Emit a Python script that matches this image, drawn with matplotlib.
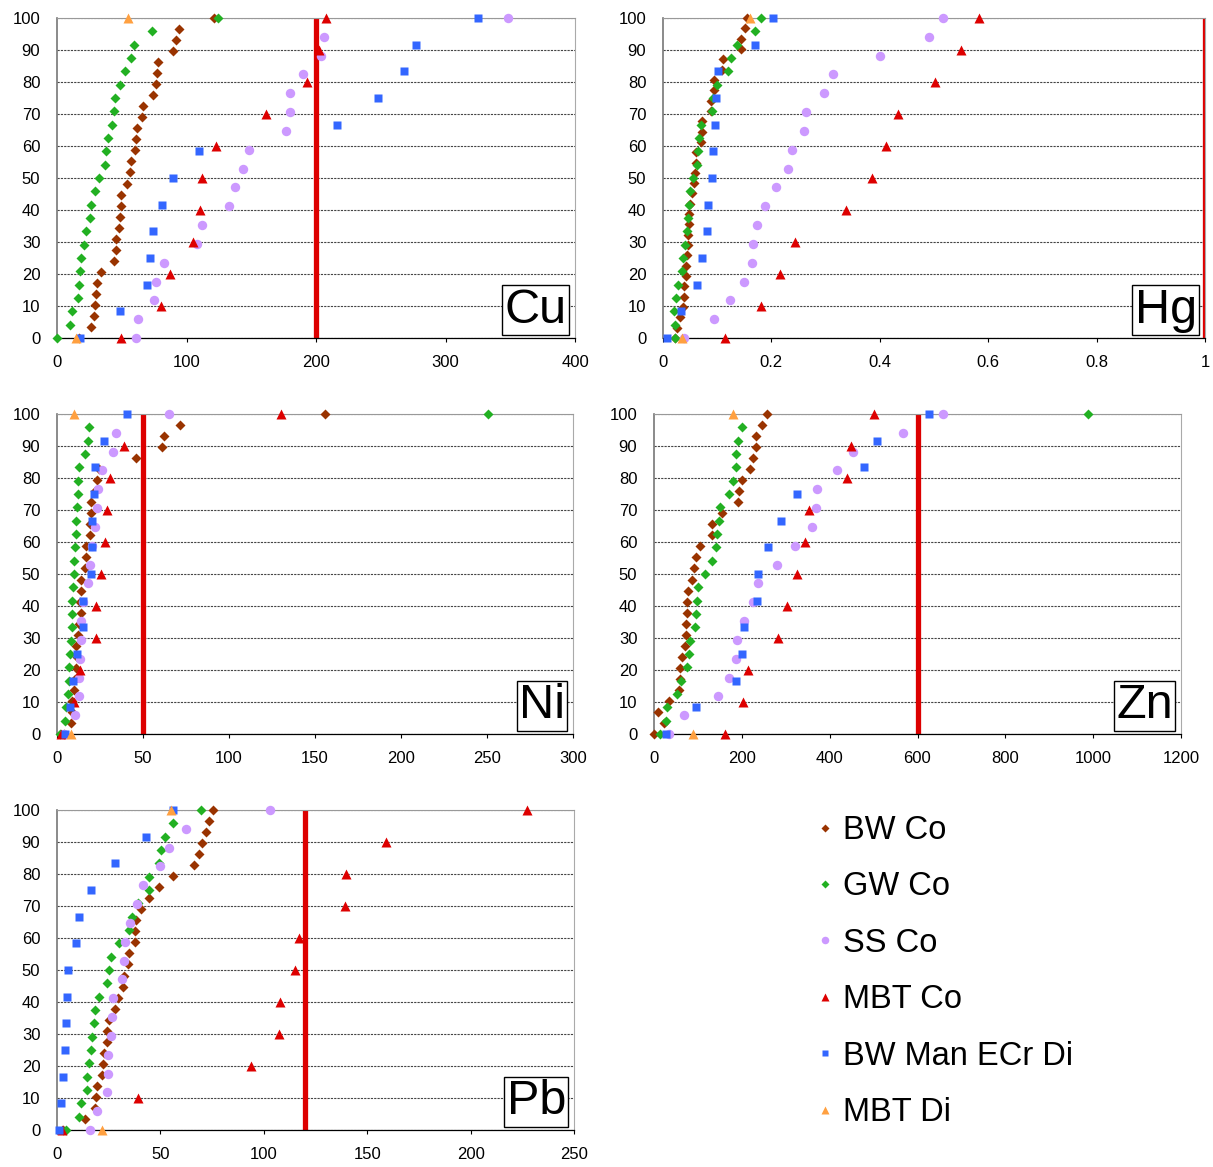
import matplotlib
matplotlib.use('Agg')
import matplotlib.pyplot as plt
import numpy as np
from matplotlib.lines import Line2D
from matplotlib.ticker import FuncFormatter

plt.rcParams['font.family'] = ['Liberation Sans', 'DejaVu Sans']

series = ['BW Co', 'GW Co', 'SS Co', 'MBT Co', 'BW Man ECr Di', 'MBT Di']
colors = ['#993300', '#22B022', '#CC99FF', '#DD0000', '#3366FF', '#FFA040']
markers = ['D', 'D', 'o', '^', 's', '^']
msizes = [5.5, 5.5, 6.8, 7.5, 5.8, 7.5]

# Values per element, each list ordered from lowest to highest cumulative %
cu_bw = [17, 26.3, 28.4, 29.2, 30.2, 31.2, 34.1, 44.1, 45.9, 45.9, 48.0, 48.5, 49.3, 49.5,
         53.9, 56.0, 57.0, 60.1, 61.2, 61.9, 65.8, 66.6, 74.3, 76.1, 76.9, 77.7, 89.3, 91.9,
         94.2, 121.5]
cu_gw = [0, 10.1, 11.4, 16.5, 17.0, 17.5, 18.6, 21.2, 22.7, 25.8, 26.3, 29.2, 32.5, 37.2,
         38.2, 39.5, 42.3, 44.1, 44.6, 49.0, 52.6, 56.8, 59.4, 73.0, 124.6]
cu_ss = [60.9, 62.7, 74.8, 76.1, 82.8, 107.9, 112.0, 132.6, 137.5, 143.7, 148.4, 176.8,
         179.9, 179.9, 189.9, 203.9, 205.9, 348.5]
cu_mbt = [49.8, 80.3, 87.2, 105.3, 110.5, 112.3, 123.1, 161.5, 192.8, 202.1, 207.7]
cu_man = [17.5, 48.8, 69.2, 72.0, 73.8, 80.8, 89.8, 109.7, 216.3, 247.6, 267.9, 276.9, 325.4]
cu_di = [14.5, 55.0]

hg_bw = [0.022, 0.026, 0.031, 0.037, 0.038, 0.039, 0.043, 0.043, 0.044, 0.046, 0.046,
         0.048, 0.048, 0.049, 0.054, 0.0566, 0.0585, 0.0615, 0.0603, 0.0708, 0.0726, 0.072,
         0.088, 0.0886, 0.094, 0.095, 0.108, 0.110, 0.143, 0.144, 0.151, 0.1545]
hg_gw = [0.0215, 0.0222, 0.0209, 0.024, 0.0283, 0.0345, 0.0369, 0.0412, 0.0443, 0.0468,
         0.0486, 0.0505, 0.0554, 0.0628, 0.0646, 0.0665, 0.0708, 0.091, 0.0923, 0.0997,
         0.120, 0.126, 0.136, 0.170, 0.1815]
hg_ss = [0.038, 0.0935, 0.123, 0.150, 0.165, 0.166, 0.1735, 0.1877, 0.2086, 0.2314, 0.2382,
         0.260, 0.263, 0.2966, 0.314, 0.401, 0.491, 0.516]
hg_mbt = [0.1145, 0.180, 0.2154, 0.2443, 0.337, 0.386, 0.412, 0.433, 0.501, 0.5496, 0.583]
hg_man = [0.008, 0.0338, 0.0628, 0.072, 0.0812, 0.083, 0.091, 0.0923, 0.096, 0.0985,
          0.1015, 0.169, 0.203]
hg_di = [0.0357, 0.161]

ni_bw = [4, 8.3, 8.5, 9.0, 9.9, 10.5, 11.0, 11.5, 11.0, 12.4, 12.8, 13.8, 13.5, 13.9, 14.1,
         16.5, 17.1, 16.7, 19.0, 19.0, 19.6, 20.0, 22.0, 23.3, 24.5, 45.7, 61.0, 62.2, 71.7,
         155.6]
ni_gw = [1.9, 4.5, 5.0, 6.4, 6.8, 7.0, 7.4, 7.9, 8.5, 8.9, 8.9, 9.3, 9.9, 9.9, 10.3, 11.0,
         11.2, 11.6, 12.0, 12.4, 12.8, 16.5, 18.0, 18.8, 250.4]
ni_ss = [4, 10.3, 12.6, 12.8, 13.6, 14.0, 13.8, 15.0, 18.0, 19.2, 20.3, 21.9, 23.1, 24.0,
         26.4, 32.6, 34.3, 64.9]
ni_mbt = [2.5, 9.7, 13.2, 22.9, 22.9, 25.8, 27.9, 29.1, 31.0, 39.0, 130.0]
ni_man = [4.8, 7.8, 9.3, 11.6, 14.9, 15.3, 19.6, 20.3, 20.3, 21.7, 22.3, 27.1, 40.7]
ni_di = [8.3, 9.7]

zn_bw = [0, 22, 9.1, 33.4, 57.0, 58.5, 58.5, 63.8, 69.9, 72.2, 73.7, 75.2, 75.2, 77.5,
         87.3, 91.1, 96.5, 104.0, 132.9, 132.9, 155.7, 192.1, 193.7, 200.5, 219.5, 225.6,
         231.6, 233.2, 246.8, 257.5]
zn_gw = [14.4, 27.3, 30.4, 53.2, 62.3, 75.9, 79.7, 81.3, 94.2, 96.5, 98.0, 100.3, 116.2,
         132.9, 140.5, 143.5, 148.1, 149.6, 170.9, 179.2, 186.1, 186.8, 192.1, 200.5, 988]
zn_ss = [33.4, 69.1, 145.1, 170.9, 187.6, 189.9, 204.3, 225.6, 236.2, 281.0, 320.5, 360.0,
         368.3, 372.1, 416.2, 453.4, 567.3, 657]
zn_mbt = [161.0, 202.8, 214.9, 282.5, 303.8, 326.6, 344.8, 353.2, 440.5, 448.8, 500.5]
zn_man = [28.1, 96.5, 187.6, 201.3, 204.3, 234.7, 237.7, 259.7, 290.1, 325.8, 478.5, 508.1,
          625.8]
zn_di = [88.9, 180.0]

pb_bw = [3, 13.7, 18.3, 19.1, 19.5, 22.0, 22.3, 22.8, 24.2, 24.2, 25.2, 27.9, 29.7, 32.0,
         32.3, 34.4, 34.7, 37.5, 37.6, 38.0, 40.4, 44.7, 49.4, 56.2, 66.1, 68.7, 70.1, 71.9,
         73.5, 75.6]
pb_gw = [4.5, 10.5, 11.6, 14.5, 14.7, 15.5, 16.5, 17.0, 17.8, 18.3, 20.4, 24.2, 25.2, 26.2,
         29.9, 34.6, 36.5, 39.1, 44.6, 44.6, 49.1, 50.2, 52.2, 56.1, 69.6]
pb_ss = [15.8, 19.5, 24.4, 24.9, 24.9, 26.3, 26.8, 27.1, 31.2, 32.3, 33.1, 35.5, 38.8, 41.7,
         49.8, 54.3, 62.4, 103.1]
pb_mbt = [2.6, 39.3, 93.9, 107.4, 107.6, 115.2, 116.8, 139.2, 139.8, 158.9, 227.4]
pb_man = [0.8, 1.8, 3.1, 3.7, 4.2, 5.0, 5.3, 9.0, 10.5, 16.3, 28.1, 42.8, 56.1]
pb_di = [22.0, 54.9]

elements = ['Cu', 'Hg', 'Ni', 'Zn', 'Pb']
data = {
    'Cu': [cu_bw, cu_gw, cu_ss, cu_mbt, cu_man, cu_di],
    'Hg': [hg_bw, hg_gw, hg_ss, hg_mbt, hg_man, hg_di],
    'Ni': [ni_bw, ni_gw, ni_ss, ni_mbt, ni_man, ni_di],
    'Zn': [zn_bw, zn_gw, zn_ss, zn_mbt, zn_man, zn_di],
    'Pb': [pb_bw, pb_gw, pb_ss, pb_mbt, pb_man, pb_di],
}
limits = {'Cu': 200, 'Hg': 1, 'Ni': 50, 'Zn': 600, 'Pb': 120}
xmax = {'Cu': 400, 'Hg': 1, 'Ni': 300, 'Zn': 1200, 'Pb': 250}
xstep = {'Cu': 100, 'Hg': 0.2, 'Ni': 50, 'Zn': 200, 'Pb': 50}

# axes boxes in pixels: left, right, top, bottom
W, H = 1213, 1167
boxes = {
    'Cu': (57, 575, 18, 338),
    'Hg': (663, 1205, 18, 338),
    'Ni': (57, 573, 414, 734),
    'Zn': (654, 1181, 414, 734),
    'Pb': (57, 574, 810, 1130),
}

fig = plt.figure(figsize=(W / 100, H / 100), dpi=100)

for el in elements:
    l, r, t, b = boxes[el]
    ax = fig.add_axes([l / W, 1 - b / H, (r - l) / W, (b - t) / H])

    ax.axvline(limits[el], color='#DD0000', lw=3.8, zorder=2)

    for vals, c, m, ms in zip(data[el], colors, markers, msizes):
        n = len(vals)
        cum = np.arange(n) / (n - 1) * 100  # cumulative percentage of samples
        ax.plot(vals, cum, ls='none', marker=m, ms=ms, color=c, mec='none',
                zorder=3, clip_on=False)

    ax.set_xlim(0, xmax[el])
    ax.set_ylim(0, 100)
    ax.set_xticks(np.arange(0, xmax[el] + xstep[el] / 2, xstep[el]))
    ax.set_yticks(np.arange(0, 101, 10))
    ax.xaxis.set_major_formatter(FuncFormatter(lambda v, p: f'{v:g}'))
    ax.yaxis.grid(True, linestyle=(0, (2, 1)), color='#444444', lw=0.8, zorder=1)
    ax.tick_params(axis='x', length=3, width=0.8, direction='out', pad=9.5, labelsize=12)
    ax.tick_params(axis='y', length=0, pad=12, labelsize=12)

    ax.spines['left'].set_color('#777777')
    ax.spines['left'].set_linewidth(1.2)
    ax.spines['bottom'].set_color('black')
    ax.spines['bottom'].set_linewidth(0.9)
    ax.spines['top'].set_color('#999999')
    ax.spines['right'].set_color('#aaaaaa')

    # element name box in the lower right corner
    ax.text(1 - 8 / (r - l), 5.5 / (b - t), el, transform=ax.transAxes,
            ha='right', va='bottom', fontsize=35, zorder=5,
            bbox=dict(boxstyle='square,pad=0.05', fc='white', ec='black', lw=1))

handles = [Line2D([], [], ls='none', marker=m, ms=ms * 0.8, color=c, mec='none')
           for c, m, ms in zip(colors, markers, msizes)]
fig.legend(handles, series, loc='upper left', bbox_to_anchor=(815 / W, 1 - 815 / H),
           frameon=False, fontsize=23.5, handlelength=0.6, handletextpad=0.25,
           labelspacing=0.78, borderpad=0, borderaxespad=0)

fig.savefig('out.png', dpi=100)
